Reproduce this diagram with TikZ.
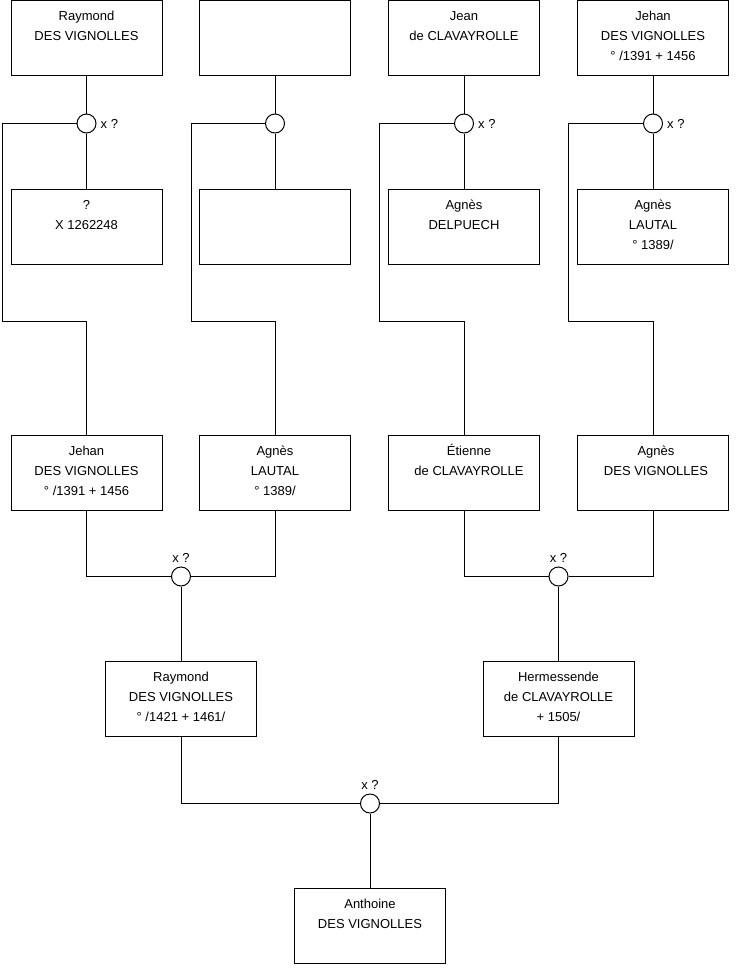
\documentclass[tikz,border=0pt]{standalone}
\usepackage{fontspec}
\setmainfont{Liberation Sans}
\usetikzlibrary{calc}
\tikzset{
  person/.style={draw=black, line width=1pt, minimum width=151pt, minimum height=75pt, inner sep=0pt, fill=white},
  ptext/.style={anchor=north, align=center, inner sep=0pt, font=\fontsize{13}{20}\selectfont},
  union/.style={draw=black, line width=1pt, circle, minimum size=19pt, inner sep=0pt, fill=white},
  lbl/.style={inner sep=0pt, font=\fontsize{13}{15}\selectfont},
  link/.style={draw=black, line width=1pt}
}
\newcommand{\fs}{\rule{0pt}{12pt}}
\begin{document}
\begin{tikzpicture}[x=1pt,y=-1pt]
\useasboundingbox (0,0) rectangle (740,975);
\fill[white] (0,0) rectangle (740,975);
% union circles
\node[union] (c1) at (86.5,123.5) {};
\node[union] (c2) at (275,123.5) {};
\node[union] (c3) at (464,123.5) {};
\node[union] (c4) at (653,123.5) {};
\node[union] (c5) at (181,576.5) {};
\node[union] (c6) at (558.5,576.5) {};
\node[union] (c7) at (370,803.5) {};
% knees
\coordinate (k1) at (2,321.5);
\coordinate (k2) at (191,321.5);
\coordinate (k3) at (379.5,321.5);
\coordinate (k4) at (568.5,321.5);
% row 1
\node[person] (r1a) at (86.5,38) {};
\node[person] (r1b) at (275,38) {};
\node[person] (r1c) at (464,38) {};
\node[person] (r1d) at (653,38) {};
% row 2
\node[person] (r2a) at (86.5,227) {};
\node[person] (r2b) at (275,227) {};
\node[person] (r2c) at (464,227) {};
\node[person] (r2d) at (653,227) {};
% row 3
\node[person] (r3a) at (86.5,472.5) {};
\node[person] (r3b) at (275,472.5) {};
\node[person] (r3c) at (464,472.5) {};
\node[person] (r3d) at (653,472.5) {};
% row 4
\node[person] (r4a) at (181,699) {};
\node[person] (r4b) at (558.5,699) {};
% row 5
\node[person] (r5) at (370,926) {};
% texts
\node[ptext] (t1a) at ($(r1a.north)+(0,8.5)$) {\fs Raymond\\DES VIGNOLLES};
\node[ptext] (t1c) at ($(r1c.north)+(0,8.5)$) {\fs Jean\\de CLAVAYROLLE};
\node[ptext] (t1d) at ($(r1d.north)+(0,8.5)$) {\fs Jehan\\DES VIGNOLLES\\° /1391 + 1456};
\node[ptext] (t2a) at ($(r2a.north)+(0,8.5)$) {\fs ?\\X 1262248};
\node[ptext] (t2c) at ($(r2c.north)+(0,8.5)$) {\fs Agnès\\DELPUECH};
\node[ptext] (t2d) at ($(r2d.north)+(0,8.5)$) {\fs Agnès\\LAUTAL\\° 1389/};
\node[ptext] (t3a) at ($(r3a.north)+(0,8.5)$) {\fs Jehan\\DES VIGNOLLES\\° /1391 + 1456};
\node[ptext] (t3b) at ($(r3b.north)+(0,8.5)$) {\fs Agnès\\LAUTAL\\° 1389/};
\node[ptext] (t3c) at ($(r3c.north)+(5,8.5)$) {\fs Étienne\\de CLAVAYROLLE};
\node[ptext] (t3d) at ($(r3d.north)+(3,8.5)$) {\fs Agnès\\DES VIGNOLLES};
\node[ptext] (t4a) at ($(r4a.north)+(0,8.5)$) {\fs Raymond\\DES VIGNOLLES\\° /1421 + 1461/};
\node[ptext] (t4b) at ($(r4b.north)+(0,8.5)$) {\fs Hermessende\\de CLAVAYROLLE\\+ 1505/};
\node[ptext] (t5) at ($(r5.north)+(0,8.5)$) {\fs Anthoine\\DES VIGNOLLES};
% union labels
\node[lbl, anchor=west] (l1) at ($(c1.east)+(4,0)$) {x ?};
\node[lbl, anchor=west] (l3) at ($(c3.east)+(4,0)$) {x ?};
\node[lbl, anchor=west] (l4) at ($(c4.east)+(4,0)$) {x ?};
\node[lbl] (l5) at ($(c5)+(0,-18.5)$) {x ?};
\node[lbl] (l6) at ($(c6)+(0,-18.5)$) {x ?};
\node[lbl] (l7) at ($(c7)+(0,-18.5)$) {x ?};
% connectors top
\draw[link] (r1a.south) -- (c1.north);
\draw[link] (c1.south) -- (r2a.north);
\draw[link] (r1b.south) -- (c2.north);
\draw[link] (c2.south) -- (r2b.north);
\draw[link] (r1c.south) -- (c3.north);
\draw[link] (c3.south) -- (r2c.north);
\draw[link] (r1d.south) -- (c4.north);
\draw[link] (c4.south) -- (r2d.north);
\draw[link] (c1.west) -| (k1) -| (r3a.north);
\draw[link] (c2.west) -| (k2) -| (r3b.north);
\draw[link] (c3.west) -| (k3) -| (r3c.north);
\draw[link] (c4.west) -| (k4) -| (r3d.north);
% connectors middle
\draw[link] (r3a.south) |- (c5.west);
\draw[link] (r3b.south) |- (c5.east);
\draw[link] (c5.south) -- (r4a.north);
\draw[link] (r3c.south) |- (c6.west);
\draw[link] (r3d.south) |- (c6.east);
\draw[link] (c6.south) -- (r4b.north);
% connectors bottom
\draw[link] (r4a.south) |- (c7.west);
\draw[link] (r4b.south) |- (c7.east);
\draw[link] (c7.south) -- (r5.north);
\end{tikzpicture}
\end{document}
